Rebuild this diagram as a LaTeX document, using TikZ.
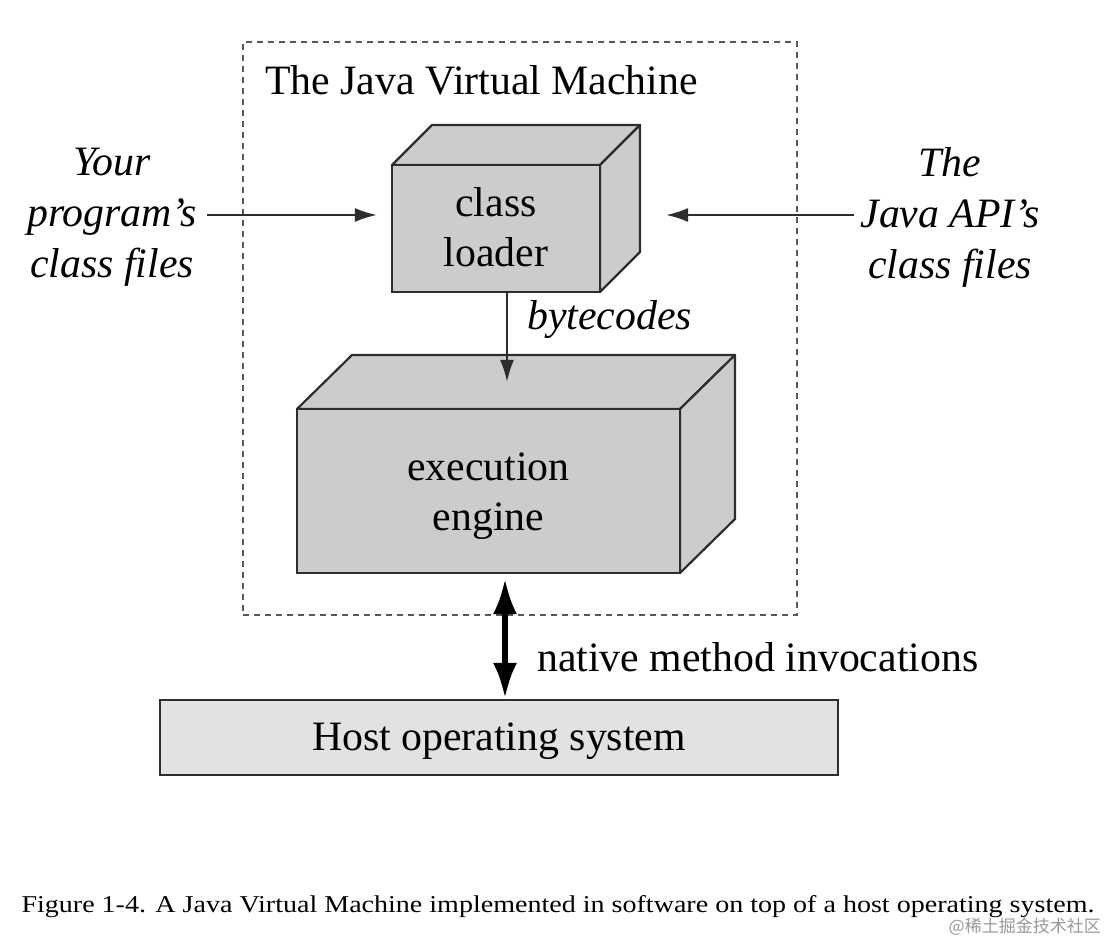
\documentclass[tikz,border=0pt]{standalone}
\usepackage{fontspec}
\setmainfont{Liberation Serif}
\newfontfamily\cjk{Noto Sans CJK SC}
\usetikzlibrary{arrows.meta}
\definecolor{boxgray}{RGB}{204,204,204}
\definecolor{hostgray}{RGB}{226,226,226}
\definecolor{edge}{RGB}{45,45,45}
\tikzset{
  lbl/.style={font=\fontsize{41.8}{50}\selectfont, inner sep=0pt, align=center},
  ilbl/.style={font=\fontsize{41.8}{51}\selectfont\itshape, inner sep=0pt, align=center},
  face/.style={draw=edge, fill=boxgray, line width=2.2pt, inner sep=0pt},
  side/.style={draw=edge, fill=boxgray, line width=2.2pt, line join=round},
  dashbox/.style={draw=edge!80, line width=2pt, dash pattern=on 6pt off 5pt},
  arr/.style={draw=edge, line width=2pt, -{Latex[length=22pt,width=14pt]}},
  dblarr/.style={draw=black, line width=6pt, {Latex[length=36pt,width=24pt]}-{Latex[length=36pt,width=24pt]}}
}
\begin{document}
\begin{tikzpicture}[x=1pt,y=-1pt]
\useasboundingbox (0,0) rectangle (1108,940);
\fill[white] (0,0) rectangle (1108,940);

% JVM frame
\node[dashbox, minimum width=554pt, minimum height=573pt, inner sep=0pt] (jvm) at (520,328.5) {};
\node[lbl, anchor=west] (title) at (265,80) {The Java Virtual Machine};

% class loader (3D box)
\draw[side] (392,165) -- ++(40,-40) -- ++(208,0) -- ++(-40,40) -- cycle;
\draw[side] (600,165) -- ++(40,-40) -- ++(0,127) -- ++(-40,40) -- cycle;
\node[face, minimum width=208pt, minimum height=127pt] (cl) at (496,228.5) {};
\node[lbl] (cltext) at ([yshift=1pt]cl.center) {class\\loader};

% execution engine (3D box)
\draw[side] (297,409) -- ++(55,-54) -- ++(383,0) -- ++(-55,54) -- cycle;
\draw[side] (680,409) -- ++(55,-54) -- ++(0,164) -- ++(-55,54) -- cycle;
\node[face, minimum width=383pt, minimum height=164pt] (ee) at (488.5,491) {};
\node[lbl] (eetext) at ([yshift=-5pt]ee.center) {execution\\engine};

% host OS
\node[draw=edge, fill=hostgray, line width=2.2pt, minimum width=678pt, minimum height=75pt,
      inner sep=0pt] (host) at (499,737.5) {};
\node[lbl] (hosttext) at ([yshift=-4pt]host.center) {Host operating system};

% side labels
\node[ilbl] (yp) at (112,217) {Your\\program's\\class files};
\node[ilbl] (ja) at (950,217) {The\\Java API's\\class files};

\draw[arr, shorten <=10pt, shorten >=14pt] ([yshift=2pt]yp.east) -- ([yshift=2pt]yp.east -| cl.west);
\draw[arr, shorten <=6pt, shorten >=65pt] ([yshift=2pt]ja.west) -- ([yshift=2pt]ja.west -| cl.east);

% bytecodes
\draw[arr, shorten >=26pt] ([xshift=11pt]cl.south) -- ([xshift=18.5pt]ee.north);
\node[ilbl, anchor=west] (bc) at (527,320) {bytecodes};

% native method invocations
\draw[dblarr, shorten <=4pt] ([xshift=16.5pt]ee.south) -- ([xshift=16.5pt]ee.south |- host.north);
\node[lbl, anchor=west] (nmi) at (537,657) {native method invocations};

% caption
\node[inner sep=0pt, anchor=base] (cap) at (558,912)
  {\resizebox{1073pt}{17pt}{\fontsize{26}{30}\selectfont Figure 1-4. A Java Virtual Machine implemented in software on top of a host operating system.}};
\node[inner sep=0pt, anchor=east, text=black!40, font=\cjk\fontsize{17}{20}\selectfont] (wm) at (1101,927) {@稀土掘金技术社区};
\end{tikzpicture}
\end{document}
